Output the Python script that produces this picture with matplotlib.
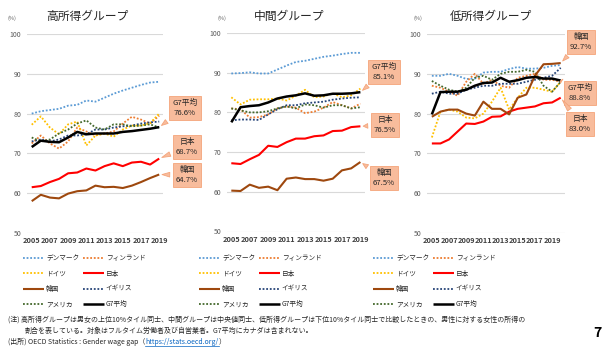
import matplotlib
matplotlib.use('Agg')
import matplotlib.pyplot as plt
from matplotlib.lines import Line2D

plt.rcParams['font.family'] = ['Noto Sans CJK JP', 'DejaVu Sans']

#%%
# data (female / male earnings ratio, %)
years = list(range(2005, 2020))
years_low = list(range(2005, 2021))
tick_years = [2005, 2007, 2009, 2011, 2013, 2015, 2017, 2019]

countries = ['デンマーク', 'フィンランド', 'ドイツ', '日本', '韓国', 'イギリス', 'アメリカ', 'G7平均']

# high income group
high_dk = [80.0, 80.6, 80.9, 81.2, 82.0, 82.2, 83.3, 83.0, 84.0, 85.0, 85.8, 86.5, 87.2, 87.8, 88.0]
high_fi = [72.5, 74.5, 72.5, 71.2, 73.0, 76.5, 75.5, 74.5, 75.0, 75.5, 77.5, 79.2, 78.5, 77.5, 79.5]
high_de = [77.2, 79.3, 76.5, 74.8, 77.3, 78.0, 72.0, 74.5, 75.0, 74.2, 76.0, 77.0, 77.0, 77.6, 80.0]
high_jp = [61.5, 61.8, 62.8, 63.6, 65.0, 65.2, 66.2, 65.7, 66.8, 67.5, 66.8, 67.7, 67.9, 67.2, 68.7]
high_kr = [58.0, 59.6, 58.9, 58.7, 59.9, 60.5, 60.7, 61.9, 61.5, 61.6, 61.3, 61.9, 62.8, 63.8, 64.7]
high_uk = [73.0, 73.5, 73.0, 73.5, 74.5, 74.5, 74.8, 76.0, 76.0, 76.5, 76.8, 77.0, 77.5, 77.8, 78.0]
high_us = [74.0, 73.0, 73.5, 75.0, 76.0, 77.5, 78.3, 76.5, 76.0, 77.3, 77.3, 76.8, 77.0, 77.3, 76.5]
high_g7 = [71.6, 73.2, 72.9, 72.8, 74.0, 75.4, 74.8, 75.0, 75.0, 75.0, 75.4, 75.6, 75.9, 76.2, 76.6]

# middle group
mid_dk = [89.8, 89.9, 90.1, 89.8, 89.8, 90.8, 91.8, 92.7, 93.0, 93.5, 94.0, 94.3, 94.7, 95.0, 95.0]
mid_fi = [81.0, 80.8, 78.7, 78.8, 79.5, 81.0, 81.5, 81.2, 79.8, 80.2, 81.2, 82.6, 81.8, 81.0, 82.2]
mid_de = [83.8, 82.0, 83.2, 83.3, 83.3, 83.5, 83.0, 84.2, 85.7, 83.8, 84.0, 84.8, 83.8, 84.3, 86.0]
mid_jp = [67.2, 67.0, 68.2, 69.3, 71.6, 71.3, 72.5, 73.4, 73.4, 74.0, 74.2, 75.3, 75.4, 76.3, 76.5]
mid_kr = [60.3, 60.2, 61.8, 61.0, 61.3, 60.4, 63.3, 63.6, 63.2, 63.2, 62.8, 63.3, 65.4, 65.9, 67.5]
mid_uk = [78.0, 78.2, 78.2, 78.1, 79.5, 80.8, 81.8, 81.8, 82.3, 82.5, 82.7, 83.2, 83.5, 83.7, 83.8]
mid_us = [81.0, 80.5, 80.0, 80.0, 80.3, 81.0, 81.5, 81.0, 82.0, 81.8, 81.2, 81.8, 81.8, 81.0, 81.3]
mid_g7 = [77.5, 81.3, 81.6, 81.8, 82.5, 83.5, 84.0, 84.3, 84.8, 84.2, 84.3, 84.7, 84.7, 84.8, 85.1]

# low income group (2005-2020)
low_dk = [89.5, 89.5, 90.0, 89.5, 88.7, 88.8, 90.3, 90.5, 90.5, 91.2, 91.7, 91.3, 91.3, 91.5, 92.0, 92.2]
low_fi = [87.0, 86.5, 85.5, 84.5, 88.0, 90.0, 87.5, 88.5, 87.0, 86.5, 89.0, 89.5, 90.0, 88.5, 88.5, 88.0]
low_de = [74.0, 80.5, 81.0, 80.5, 79.0, 78.8, 80.0, 83.0, 86.5, 81.0, 84.0, 86.5, 86.5, 86.0, 85.5, 88.0]
low_jp = [72.5, 72.5, 73.5, 75.5, 77.5, 77.4, 78.0, 79.2, 79.3, 80.5, 81.2, 81.5, 81.8, 82.6, 82.8, 84.0]
low_kr = [79.2, 80.5, 81.0, 81.0, 80.0, 79.5, 83.0, 81.2, 81.2, 79.8, 84.0, 84.8, 89.5, 92.4, 92.5, 92.7]
low_uk = [85.0, 85.5, 85.0, 85.0, 86.0, 86.5, 87.0, 87.0, 87.5, 87.5, 87.5, 88.0, 88.5, 89.0, 89.5, 91.5]
low_us = [88.2, 87.0, 86.0, 85.5, 86.5, 89.0, 89.5, 88.5, 90.0, 90.5, 90.5, 91.0, 90.5, 87.0, 85.5, 88.0]
low_g7 = [79.8, 85.4, 85.5, 85.5, 86.0, 87.0, 87.7, 87.8, 89.0, 88.0, 88.4, 89.0, 89.2, 88.8, 88.8, 88.3]

titles = ['高所得グループ', '中間グループ', '低所得グループ']

# callout labels (country, text)
high_labels = [('G7平均', 'G7平均\n76.6%'), ('日本', '日本\n68.7%'), ('韓国', '韓国\n64.7%')]
mid_labels = [('G7平均', 'G7平均\n85.1%'), ('日本', '日本\n76.5%'), ('韓国', '韓国\n67.5%')]
low_labels = [('韓国', '韓国\n92.7%'), ('G7平均', 'G7平均\n88.8%'), ('日本', '日本\n83.0%')]

#%%
# styles
dot = (0, (1, 1))
styles = {
    'デンマーク': dict(color='#5B9BD5', ls=dot, lw=1.3),
    'フィンランド': dict(color='#ED7D31', ls=dot, lw=1.3),
    'ドイツ': dict(color='#FFC000', ls=dot, lw=1.3),
    '日本': dict(color='#FF0000', ls='-', lw=1.5),
    '韓国': dict(color='#9E480E', ls='-', lw=1.5),
    'イギリス': dict(color='#264478', ls=dot, lw=1.3),
    'アメリカ': dict(color='#43682B', ls=dot, lw=1.3),
    'G7平均': dict(color='black', ls='-', lw=1.8),
}

panels = [
    (years, [high_dk, high_fi, high_de, high_jp, high_kr, high_uk, high_us, high_g7], high_labels),
    (years, [mid_dk, mid_fi, mid_de, mid_jp, mid_kr, mid_uk, mid_us, mid_g7], mid_labels),
    (years_low, [low_dk, low_fi, low_de, low_jp, low_kr, low_uk, low_us, low_g7], low_labels),
]

W, H = 602, 353
fig = plt.figure(figsize=(W / 100, H / 100), dpi=100)

# axes boxes in pixels: left, top, right, bottom
boxes = [(26.7, 34, 163.3, 233), (226.7, 33, 365, 231.5), (426.7, 34, 565, 233)]
xlims = [(2004.45, 2019.45), (2004.5, 2019.5), (2004.4, 2020.5)]
title_x = [87, 289, 491]
pct_x = [7, 218, 413]
# callout text centers (pixels, from top)
callouts = [
    [(185, 108), (187, 147), (187, 175)],
    [(384, 72), (385, 125), (384, 178)],
    [(581, 42), (580, 93), (580, 124)],
]
legend_x = [20, 196, 370]

for i, (xs, series, labels) in enumerate(panels):
    l, t, r, b = boxes[i]
    ax = fig.add_axes([l / W, 1 - b / H, (r - l) / W, (b - t) / H])
    for name, vals in zip(countries, series):
        st = styles[name]
        z = 3 if st['ls'] == '-' else 2
        ax.plot(xs, vals, color=st['color'], linestyle=st['ls'], lw=st['lw'],
                label=name, zorder=z, solid_capstyle='butt')
    ax.set_xlim(*xlims[i])
    ax.set_ylim(50, 100)
    ax.set_yticks(range(50, 101, 10))
    ax.set_xticks(tick_years)
    ax.set_xticklabels([str(y) for y in tick_years], fontsize=5.3, fontweight='bold', color='#404040')
    ax.tick_params(axis='y', labelsize=5, labelcolor='#595959', length=0, pad=4)
    ax.tick_params(axis='x', length=0, pad=3)
    ax.grid(axis='y', color='#D9D9D9', lw=0.8)
    ax.set_axisbelow(True)
    for sp in ax.spines.values():
        sp.set_visible(False)

    fig.text(title_x[i] / W, 1 - 16 / H, titles[i], fontsize=8.5, ha='center', va='center', color='#262626')
    fig.text(pct_x[i] / W, 1 - 18 / H, '(%)', fontsize=4, ha='left', va='center', color='#595959')

    # callouts
    for (name, txt), (cx, cy) in zip(labels, callouts[i]):
        vals = series[countries.index(name)]
        ax.annotate(txt, xy=(xs[-1], vals[-1]), xytext=(cx, H - cy), textcoords='figure pixels',
                    fontsize=5.6, ha='center', va='center', color='#262626', linespacing=1.25,
                    bbox=dict(boxstyle='square,pad=0.4', fc='#F8BC9C', ec='#F4A47A', lw=0.6),
                    arrowprops=dict(arrowstyle='wedge,tail_width=0.6', fc='#F8BC9C', ec='#F4A47A', lw=0.6),
                    zorder=5, annotation_clip=False)

    # legend, 2 columns filled row by row
    h, lab = ax.get_legend_handles_labels()
    order = [0, 2, 4, 6, 1, 3, 5, 7]
    fig.legend([h[k] for k in order], [lab[k] for k in order], ncol=2,
               loc='upper left', bbox_to_anchor=(legend_x[i] / W, 1 - 251 / H),
               frameon=False, fontsize=4.8, handlelength=3.1, handletextpad=0.3,
               columnspacing=0.6, labelspacing=1.1, borderpad=0, labelcolor='#262626')

# footnotes
fs = 5.0
fig.text(8 / W, 1 - 320 / H,
         '(注) 高所得グループは男女の上位10%タイル同士、中間グループは中央値同士、低所得グループは下位10%タイル同士で比較したときの、男性に対する女性の所得の',
         fontsize=fs, va='center', color='#262626')
fig.text(25 / W, 1 - 331 / H,
         '割合を表している。対象はフルタイム労働者及び自営業者。G7平均にカナダは含まれない。',
         fontsize=fs, va='center', color='#262626')
t1 = fig.text(8 / W, 1 - 342 / H, '(出所) OECD Statistics : Gender wage gap（',
              fontsize=fs, va='center', color='#262626')
fig.canvas.draw()
bb = t1.get_window_extent()
t2 = fig.text(bb.x1 / W, 1 - 342 / H, 'https://stats.oecd.org/', fontsize=fs, va='center', color='#0563C1')
fig.canvas.draw()
bb2 = t2.get_window_extent()
fig.add_artist(Line2D([bb2.x0 / W, bb2.x1 / W], [(H - 346) / H] * 2, color='#0563C1', lw=0.5))
fig.text(bb2.x1 / W, 1 - 342 / H, '）', fontsize=fs, va='center', color='#262626')
fig.text(597 / W, 1 - 333 / H, '7', fontsize=10, fontweight='bold', ha='center', va='center')

fig.savefig('out.png', dpi=100)
